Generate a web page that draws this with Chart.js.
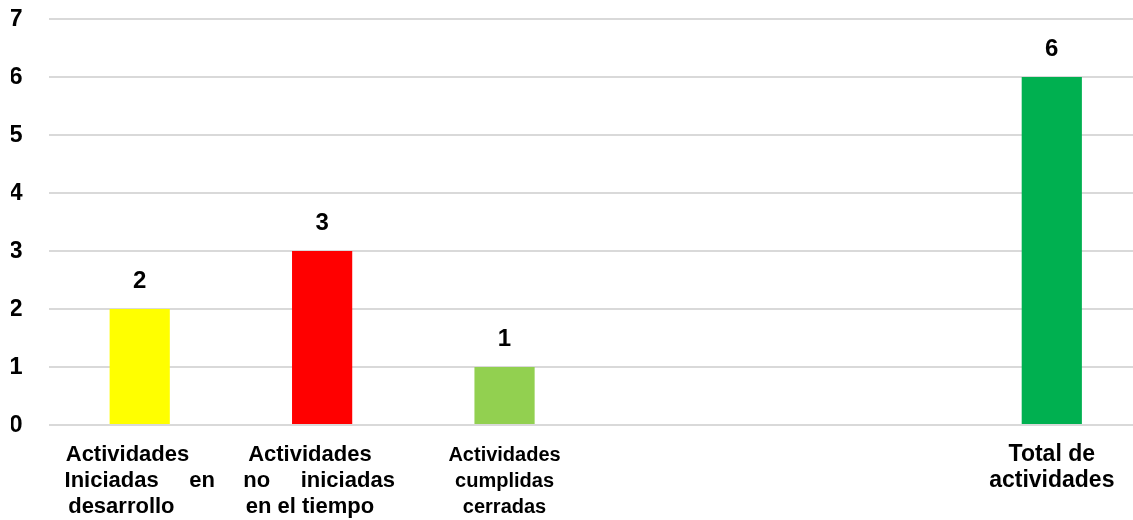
<!DOCTYPE html>
<html>
<head>
<meta charset="utf-8">
<script src="https://cdn.jsdelivr.net/npm/chart.js@4/dist/chart.umd.min.js"></script>
<style>
  html, body { margin: 0; padding: 0; background: #ffffff; overflow: hidden; }
  #wrap { position: relative; width: 1146px; height: 520px; }
</style>
</head>
<body>
<div id="wrap"><canvas id="c"></canvas></div>
<script>
const categories = [
  ['Actividades    ', 'Iniciadas     en', 'desarrollo      '],
  ['Actividades    ', 'no     iniciadas ', 'en el tiempo    '],
  ['Actividades', 'cumplidas', 'cerradas'],
  '',
  '',
  ['Total de', 'actividades']
];
const values = [2, 3, 1, null, null, 6];
const barColors = ['#FFFF00', '#FF0000', '#92D050', '#FFFFFF', '#FFFFFF', '#00B050'];
const yMin = 0;
const yMax = 7;
const yStep = 1;

const FONT = '"Liberation Sans", Arial, sans-serif';
const labelSizes = [22, 22, 20, 22, 22, 23];

const valueLabels = {
  id: 'valueLabels',
  afterDatasetsDraw(chart) {
    const ctx = chart.ctx;
    const meta = chart.getDatasetMeta(0);
    ctx.save();
    ctx.font = 'bold 24px ' + FONT;
    ctx.fillStyle = '#000000';
    ctx.textAlign = 'center';
    ctx.textBaseline = 'middle';
    meta.data.forEach((el, i) => {
      const v = chart.data.datasets[0].data[i];
      if (v === null || v === undefined) return;
      ctx.fillText(String(v), el.x, el.y - 28);
    });
    ctx.restore();
  }
};

new Chart(document.getElementById('c'), {
  type: 'bar',
  data: {
    labels: categories,
    datasets: [{
      data: values,
      backgroundColor: barColors,
      borderWidth: 0,
      categoryPercentage: 1.0,
      barPercentage: 0.33
    }]
  },
  options: {
    responsive: true,
    maintainAspectRatio: false,
    animation: false,
    devicePixelRatio: 1,
    layout: { padding: { left: 11, right: 3, top: 19, bottom: 0 } },
    plugins: {
      legend: { display: false },
      tooltip: { enabled: false }
    },
    scales: {
      x: {
        grid: { display: false, drawTicks: false },
        border: { display: false },
        afterFit: (s) => { s.height = 95; s.paddingLeft = 0; s.paddingRight = 0; },
        ticks: {
          color: '#000000',
          padding: 17,
          maxRotation: 0,
          autoSkip: false,
          font: (c) => ({ family: FONT, weight: 'bold', size: labelSizes[c.index] || 22, lineHeight: '26px' })
        }
      },
      y: {
        min: yMin,
        max: yMax,
        grid: { color: '#D9D9D9', lineWidth: 2, drawTicks: false },
        border: { display: false },
        afterFit: (s) => { s.width = 37.5; s.paddingTop = 0; s.paddingBottom = 0; },
        ticks: {
          stepSize: yStep,
          color: '#000000',
          padding: 26,
          font: { family: FONT, weight: 'bold', size: 24 }
        }
      }
    }
  },
  plugins: [valueLabels]
});
</script>
</body>
</html>
